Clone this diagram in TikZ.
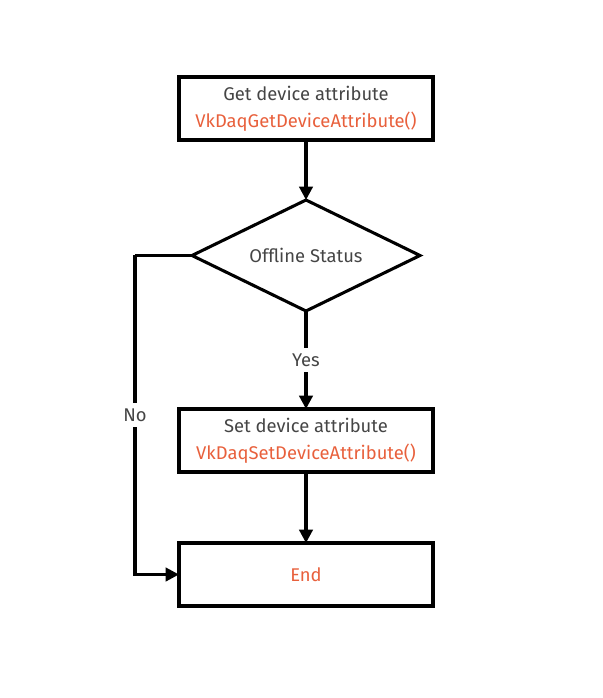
\documentclass[tikz,border=0pt]{standalone}
\usepackage{fontspec}
\setmainfont{Fira Sans}
\usetikzlibrary{shapes.geometric,arrows.meta,positioning}
\definecolor{txtgray}{HTML}{454545}
\definecolor{apired}{HTML}{E8603C}

\begin{document}
\begin{tikzpicture}[-{Triangle[width=10pt,length=10pt]},line width=2.3pt,node distance=1cm,
  box node/.style={draw, rectangle, line width=2.3pt, outer sep=0pt, minimum width=190.5pt, minimum height=47.25pt, align=center, text=txtgray, font=\fontsize{13.8}{20}\selectfont},
  check node/.style={draw, diamond, line width=2.3pt, outer sep=0pt, minimum width=171pt, minimum height=83.25pt, inner sep=0pt, aspect=2, text=txtgray, font=\fontsize{13.8}{16}\selectfont},
  answer/.style={fill=white, text=txtgray, inner sep=4pt, font=\fontsize{13.8}{16}\selectfont}]
				\useasboundingbox (-229.5pt,81.375pt) rectangle (222pt,-442.125pt);
				\node[box node] (get) {Get device attribute\\\textcolor{apired}{VkDaqGetDeviceAttribute()}};
				\node[check node] (status) [below=45pt of get] {Offline Status};
				\node[box node] (set) [below=73.5pt of status] {Set device attribute\\\textcolor{apired}{VkDaqSetDeviceAttribute()}};
				\node[box node] (end) [below=53.25pt of set] {\textcolor{apired}{End}};
				\coordinate[left=42.75pt of status.west] (corner);
				
				\draw (get) -- (status);
				\draw (status) -- node [answer] {Yes} (set);
				\draw (set) -- (end);
				\draw[-] (status.west) -- (corner);
				\draw (corner) -- node [answer] {No} (corner |- end.west) -- (end.west);
				
				\end{tikzpicture}
\end{document}
